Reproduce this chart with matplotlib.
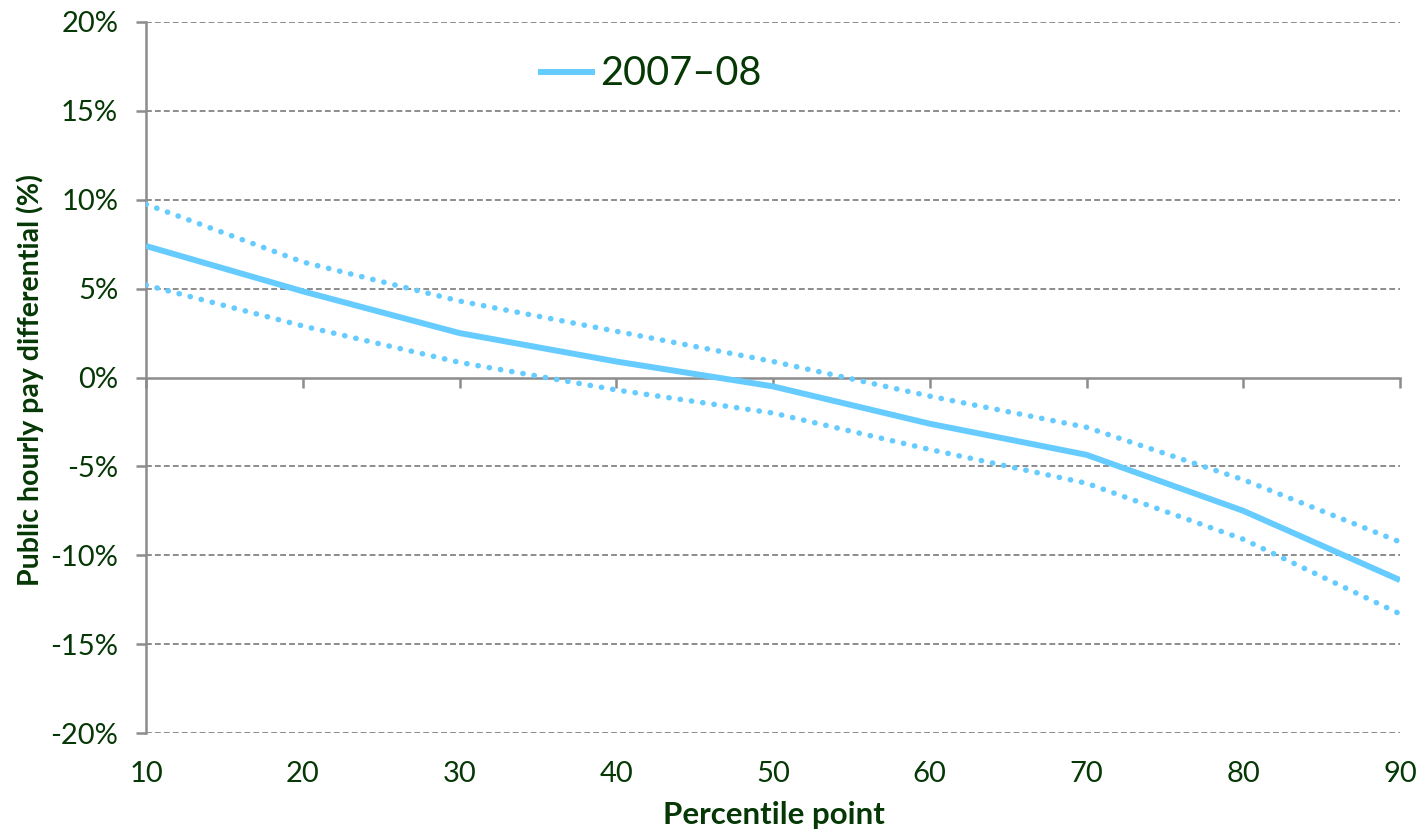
import matplotlib.pyplot as plt
from matplotlib.ticker import FuncFormatter

plt.rcParams['font.family'] = ['Liberation Sans Narrow', 'Lato', 'DejaVu Sans']

TEXT = '#063806'
LINE = '#66ccff'
AXIS = '#8c8c8c'

percentile = [10, 20, 30, 40, 50, 60, 70, 80, 90]
diff_2007 = [7.4, 4.85, 2.5, 0.9, -0.5, -2.6, -4.35, -7.5, -11.4]
upper_ci = [9.75, 6.5, 4.3, 2.6, 0.9, -1.05, -2.8, -5.75, -9.25]
lower_ci = [5.2, 2.9, 0.85, -0.7, -2.0, -4.05, -5.95, -9.1, -13.3]

yticks = [-20, -15, -10, -5, 0, 5, 10, 15, 20]

fig = plt.figure(figsize=(14.23, 8.32), dpi=100)
ax = fig.add_axes([146 / 1423, 1 - 733 / 832, (1400 - 146) / 1423, (733 - 22) / 832])

ax.plot(percentile, diff_2007, color=LINE, lw=4.3, solid_capstyle='butt',
        label='2007–08', zorder=4)
for band in (upper_ci, lower_ci):
    ax.plot(percentile, band, color=LINE, lw=4, linestyle=(0, (0.05, 2.0)),
            dash_capstyle='round', zorder=3)

ax.set_xlim(10, 90)
ax.set_ylim(-20, 20)
ax.set_yticks(yticks)
ax.yaxis.set_major_formatter(FuncFormatter(lambda v, p: f'{v:.0f}%'))

# dashed grid everywhere except the zero line, which is the axis itself
for v in yticks:
    if v != 0:
        ax.axhline(v, color=AXIS, lw=1.4, ls=(0, (3, 1.6)), zorder=1)

for side in ('top', 'right'):
    ax.spines[side].set_visible(False)
ax.spines['left'].set_color(AXIS)
ax.spines['left'].set_linewidth(1.8)
ax.spines['bottom'].set_position(('data', 0))
ax.spines['bottom'].set_color(AXIS)
ax.spines['bottom'].set_linewidth(1.8)
ax.spines['bottom'].set_zorder(2)

ax.set_xticks(percentile)
ax.tick_params(axis='x', direction='out', length=7, width=1.8, color=AXIS,
               labelbottom=False)
ax.tick_params(axis='y', direction='out', length=7, width=1.8, color=AXIS,
               labelsize=21, labelcolor=TEXT, pad=13)

# percentile labels sit under the plot, away from the zero axis
sec = ax.secondary_xaxis(0.0)
sec.set_xticks(percentile)
sec.tick_params(length=0, labelsize=21, labelcolor=TEXT, pad=20)
sec.spines['bottom'].set_visible(False)

fig.text(774 / 1423, 1 - 815 / 832, 'Percentile point', ha='center', va='center',
         fontsize=22.5, fontweight='bold', color=TEXT)
fig.text(30 / 1423, 1 - 380 / 832, 'Public hourly pay differential (%)',
         ha='center', va='center', rotation=90, fontsize=20.5, fontweight='bold',
         color=TEXT)

leg = ax.legend(loc='upper left', bbox_to_anchor=(0.284, 1.003), frameon=False,
                fontsize=28.5, handlelength=1.45, handletextpad=0.12,
                labelcolor=TEXT)

fig.savefig('out.png', dpi=100)
